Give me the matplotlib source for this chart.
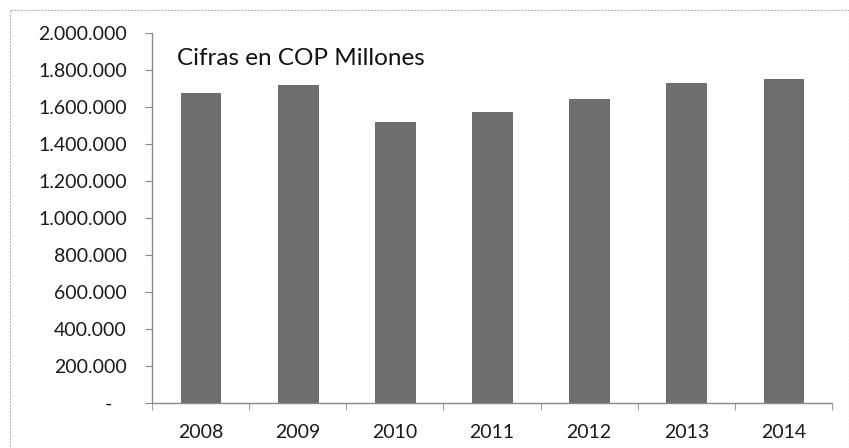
import matplotlib.pyplot as plt
import numpy as np
from matplotlib.ticker import FuncFormatter, FixedLocator
from matplotlib.patches import Rectangle

years = ["2008", "2009", "2010", "2011", "2012", "2013", "2014"]
valores = [1676000, 1719000, 1519000, 1573000, 1643000, 1730000, 1751000]

plt.rcParams["font.family"] = ["Lato", "DejaVu Sans"]

fig = plt.figure(figsize=(8.49, 4.48), dpi=100)
ax = fig.add_axes([0.179, 0.1004, 0.801, 0.826])

x = np.arange(len(years))
ax.bar(x, valores, width=0.41, color="#6f6f6f", edgecolor="#5e5e5e", linewidth=0.6)

ax.set_xlim(-0.5, len(years) - 0.5)
ax.set_ylim(0, 2000000)
ax.set_yticks(np.arange(0, 2000001, 200000))


def fmt(v, pos):
    if v == 0:
        return "-   "
    return f"{int(v):,}".replace(",", ".")


ax.yaxis.set_major_formatter(FuncFormatter(fmt))
ax.set_xticks(x)
ax.set_xticklabels(years)
ax.xaxis.set_minor_locator(FixedLocator(np.arange(-0.5, len(years), 1.0)))
ax.tick_params(axis="x", which="major", length=0, pad=15, labelsize=14, labelcolor="#1a1a1a")
ax.tick_params(axis="x", which="minor", length=5, color="#888888")
ax.tick_params(axis="y", length=5, color="#888888", labelsize=14, labelcolor="#1a1a1a", pad=13)

for s in ["top", "right"]:
    ax.spines[s].set_visible(False)
for s in ["left", "bottom"]:
    ax.spines[s].set_color("#8a8a8a")
    ax.spines[s].set_linewidth(1.0)

ax.text(0.037, 0.93, "Cifras en COP Millones", transform=ax.transAxes,
        fontsize=17.5, color="#111111", va="center", ha="left")

# chart border
fig.patches.append(Rectangle((0.012, 0.0), 0.988, 0.978, transform=fig.transFigure,
                             fill=False, edgecolor="#b5b5b5", linewidth=0.8,
                             linestyle=(0, (2, 1))))

fig.savefig("out.png", dpi=100)
